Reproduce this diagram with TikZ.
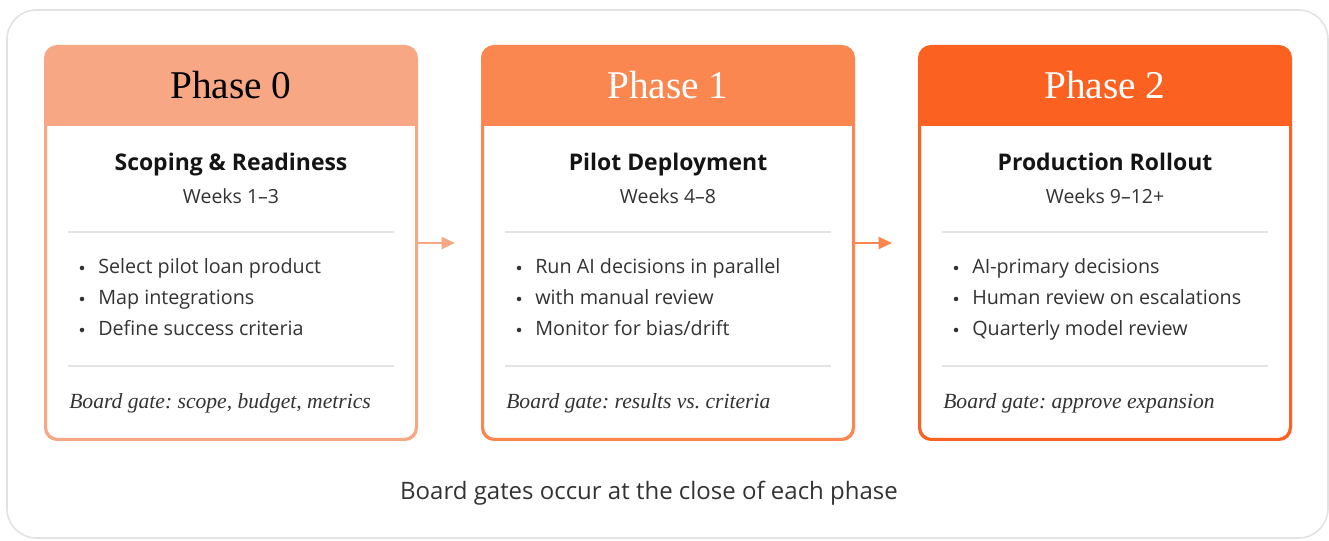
\documentclass[tikz,border=0pt]{standalone}
\usepackage{fontspec}
\setmainfont{Liberation Serif}
\setsansfont{Open Sans}
\usetikzlibrary{arrows.meta}
\frenchspacing
\definecolor{c0}{HTML}{F8A785}
\definecolor{c1}{HTML}{FA8650}
\definecolor{c2}{HTML}{FB6120}
\definecolor{framec}{HTML}{E2E2E2}
\definecolor{sepc}{HTML}{E4E4E4}
\definecolor{txt}{HTML}{141414}
\definecolor{subc}{HTML}{333333}
\tikzset{
  frame/.style={draw=framec, line width=1.2pt, rounded corners=22pt},
  pbox/.style={draw=#1, line width=1.5pt, rounded corners=9pt, fill=white,
    minimum width=277.5pt, minimum height=294pt, inner sep=0pt},
  ptitle/.style={font=\rmfamily\fontsize{29.5}{33}\selectfont, text=#1, anchor=base},
  phead/.style={font=\sffamily\bfseries\fontsize{17.2}{20}\selectfont, text=txt, anchor=base},
  pweeks/.style={font=\sffamily\fontsize{14.6}{17}\selectfont, text=subc, anchor=base},
  pitem/.style={font=\sffamily\fontsize{14.8}{17}\selectfont, text=subc, anchor=base west, inner sep=0pt},
  pdot/.style={circle, fill=subc, inner sep=0pt, minimum size=3.4pt},
  pgate/.style={font=\rmfamily\itshape\frenchspacing\fontsize{16.2}{19}\selectfont, text=subc, anchor=base west, inner sep=0pt},
  psep/.style={draw=sepc, line width=1.2pt},
  parrow/.style={draw=#1, line width=1.6pt, -{Triangle[length=10pt,width=9pt]}},
  foot/.style={font=\sffamily\fontsize{18}{21}\selectfont, text=subc, anchor=base}
}
\begin{document}
\begin{tikzpicture}[x=0.75pt, y=-0.75pt]
\useasboundingbox (0,0) rectangle (1329,541);
\draw[frame] (7,10) rectangle (1328,538);

% ---------- boxes ----------
\node[pbox=c0] (b0) at (231,243) {};
\node[pbox=c1] (b1) at (668,243) {};
\node[pbox=c2] (b2) at (1105,243) {};

\foreach \b/\c in {b0/c0, b1/c1, b2/c2}{
  \begin{scope}
    \clip[rounded corners=9pt] (\b.north west) rectangle (\b.south east);
    \fill[\c] (\b.north west) rectangle ([yshift=-60pt]\b.north east);
  \end{scope}
  \draw[\c, line width=1.5pt, rounded corners=9pt] (\b.north west) rectangle (\b.south east);
}

% ---------- Phase 0 ----------
\node[ptitle=black] (t0) at (231,99) {Phase 0};
\node[phead] (h0) at (231,171) {Scoping \& Readiness};
\node[pweeks] (w0) at (231,204) {Weeks 1–3};
\draw[psep] (68,232) -- (394,232);
\node[pdot] (d0a) at (82,268) {};
\node[pdot] (d0b) at (82,299) {};
\node[pdot] (d0c) at (82,330) {};
\node[pitem] (i0a) at (98,274) {Select pilot loan product};
\node[pitem] (i0b) at (98,305) {Map integrations};
\node[pitem] (i0c) at (98,336) {Define success criteria};
\draw[psep] (68,366) -- (394,366);
\node[pgate] (g0) at (69,409) {Board gate: scope, budget, metrics};

% ---------- Phase 1 ----------
\node[ptitle=white] (t1) at (668,99) {Phase 1};
\node[phead] (h1) at (668,171) {Pilot Deployment};
\node[pweeks] (w1) at (668,204) {Weeks 4–8};
\draw[psep] (505,232) -- (831,232);
\node[pdot] (d1a) at (519,268) {};
\node[pdot] (d1b) at (519,299) {};
\node[pdot] (d1c) at (519,330) {};
\node[pitem] (i1a) at (535,274) {Run AI decisions in parallel};
\node[pitem] (i1b) at (535,305) {with manual review};
\node[pitem] (i1c) at (535,336) {Monitor for bias/drift};
\draw[psep] (505,366) -- (831,366);
\node[pgate] (g1) at (506,409) {Board gate: results vs. criteria};

% ---------- Phase 2 ----------
\node[ptitle=white] (t2) at (1105,99) {Phase 2};
\node[phead] (h2) at (1105,171) {Production Rollout};
\node[pweeks] (w2) at (1105,204) {Weeks 9–12+};
\draw[psep] (942,232) -- (1268,232);
\node[pdot] (d2a) at (956,268) {};
\node[pdot] (d2b) at (956,299) {};
\node[pdot] (d2c) at (956,330) {};
\node[pitem] (i2a) at (972,274) {AI-primary decisions};
\node[pitem] (i2b) at (972,305) {Human review on escalations};
\node[pitem] (i2c) at (972,336) {Quarterly model review};
\draw[psep] (942,366) -- (1268,366);
\node[pgate] (g2) at (943,409) {Board gate: approve expansion};

% ---------- arrows ----------
\coordinate (a0end) at (455,243);
\coordinate (a1end) at (892,243);
\draw[parrow=c0] (b0.east) -- (a0end);
\draw[parrow=c1] (b1.east) -- (a1end);

% ---------- footer ----------
\node[foot] (ft) at (649,500) {Board gates occur at the close of each phase};
\end{tikzpicture}
\end{document}
